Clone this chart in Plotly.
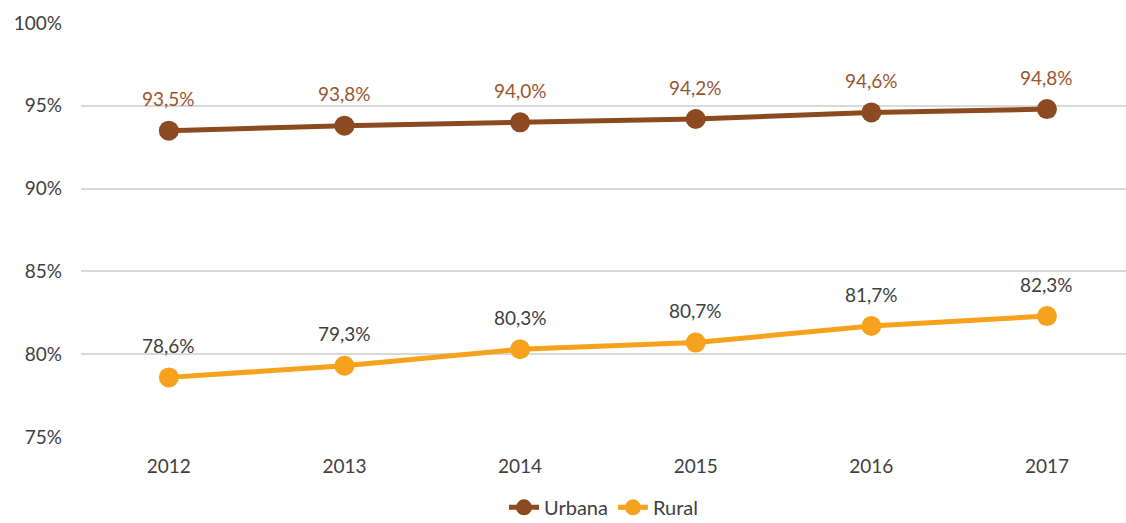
import plotly.graph_objects as go

years = ["2012", "2013", "2014", "2015", "2016", "2017"]
urbana = [93.5, 93.8, 94.0, 94.2, 94.6, 94.8]
rural = [78.6, 79.3, 80.3, 80.7, 81.7, 82.3]
y_ticks = [75, 80, 85, 90, 95, 100]

FONT = "Lato"
FS = 19
URB_COLOR = "#8C4A20"
URB_TEXT = "#9A5630"
RUR_COLOR = "#F7A21D"
RUR_TEXT = "#404040"


def fmt(v):
    return f"{v:.1f}".replace(".", ",") + "%"


fig = go.Figure()
for name, vals, color in [("Urbana", urbana, URB_COLOR), ("Rural", rural, RUR_COLOR)]:
    fig.add_trace(go.Scatter(
        x=years, y=vals, name=name, mode="lines+markers",
        line=dict(color=color, width=5),
        marker=dict(color=color, size=20),
    ))

# value labels above each point (category axes take the category index)
annotations = []
for vals, color in [(urbana, URB_TEXT), (rural, RUR_TEXT)]:
    for i, v in enumerate(vals):
        annotations.append(dict(
            x=i, y=v, xref="x", yref="y", text=fmt(v), showarrow=False,
            yshift=32,
            font=dict(family=FONT, size=FS, color=color),
        ))

fig.update_layout(
    width=1126, height=523,
    margin=dict(l=81, r=0, t=23, b=86, autoexpand=False),
    plot_bgcolor="white", paper_bgcolor="white",
    font=dict(family=FONT, size=FS, color="#404040"),
    xaxis=dict(type="category", range=[-0.5, 5.45], showgrid=False,
               showline=False, ticks="", zeroline=False,
               ticklabelstandoff=16, automargin=False,
               tickfont=dict(size=FS, color="#404040")),
    yaxis=dict(range=[75, 100], tickmode="array", tickvals=y_ticks,
               ticktext=[f"{t}%" for t in y_ticks],
               showgrid=True, gridcolor="#d9d9d9", gridwidth=1.5,
               zeroline=False, showline=False, ticks="",
               ticklabelstandoff=18, automargin=False,
               tickfont=dict(size=FS, color="#404040")),
    legend=dict(orientation="h", x=0.5, xanchor="center",
                yref="container", y=0.03, yanchor="middle",
                font=dict(size=20, color="#404040")),
    annotations=annotations,
    showlegend=True,
)

fig.write_html("out.html")
